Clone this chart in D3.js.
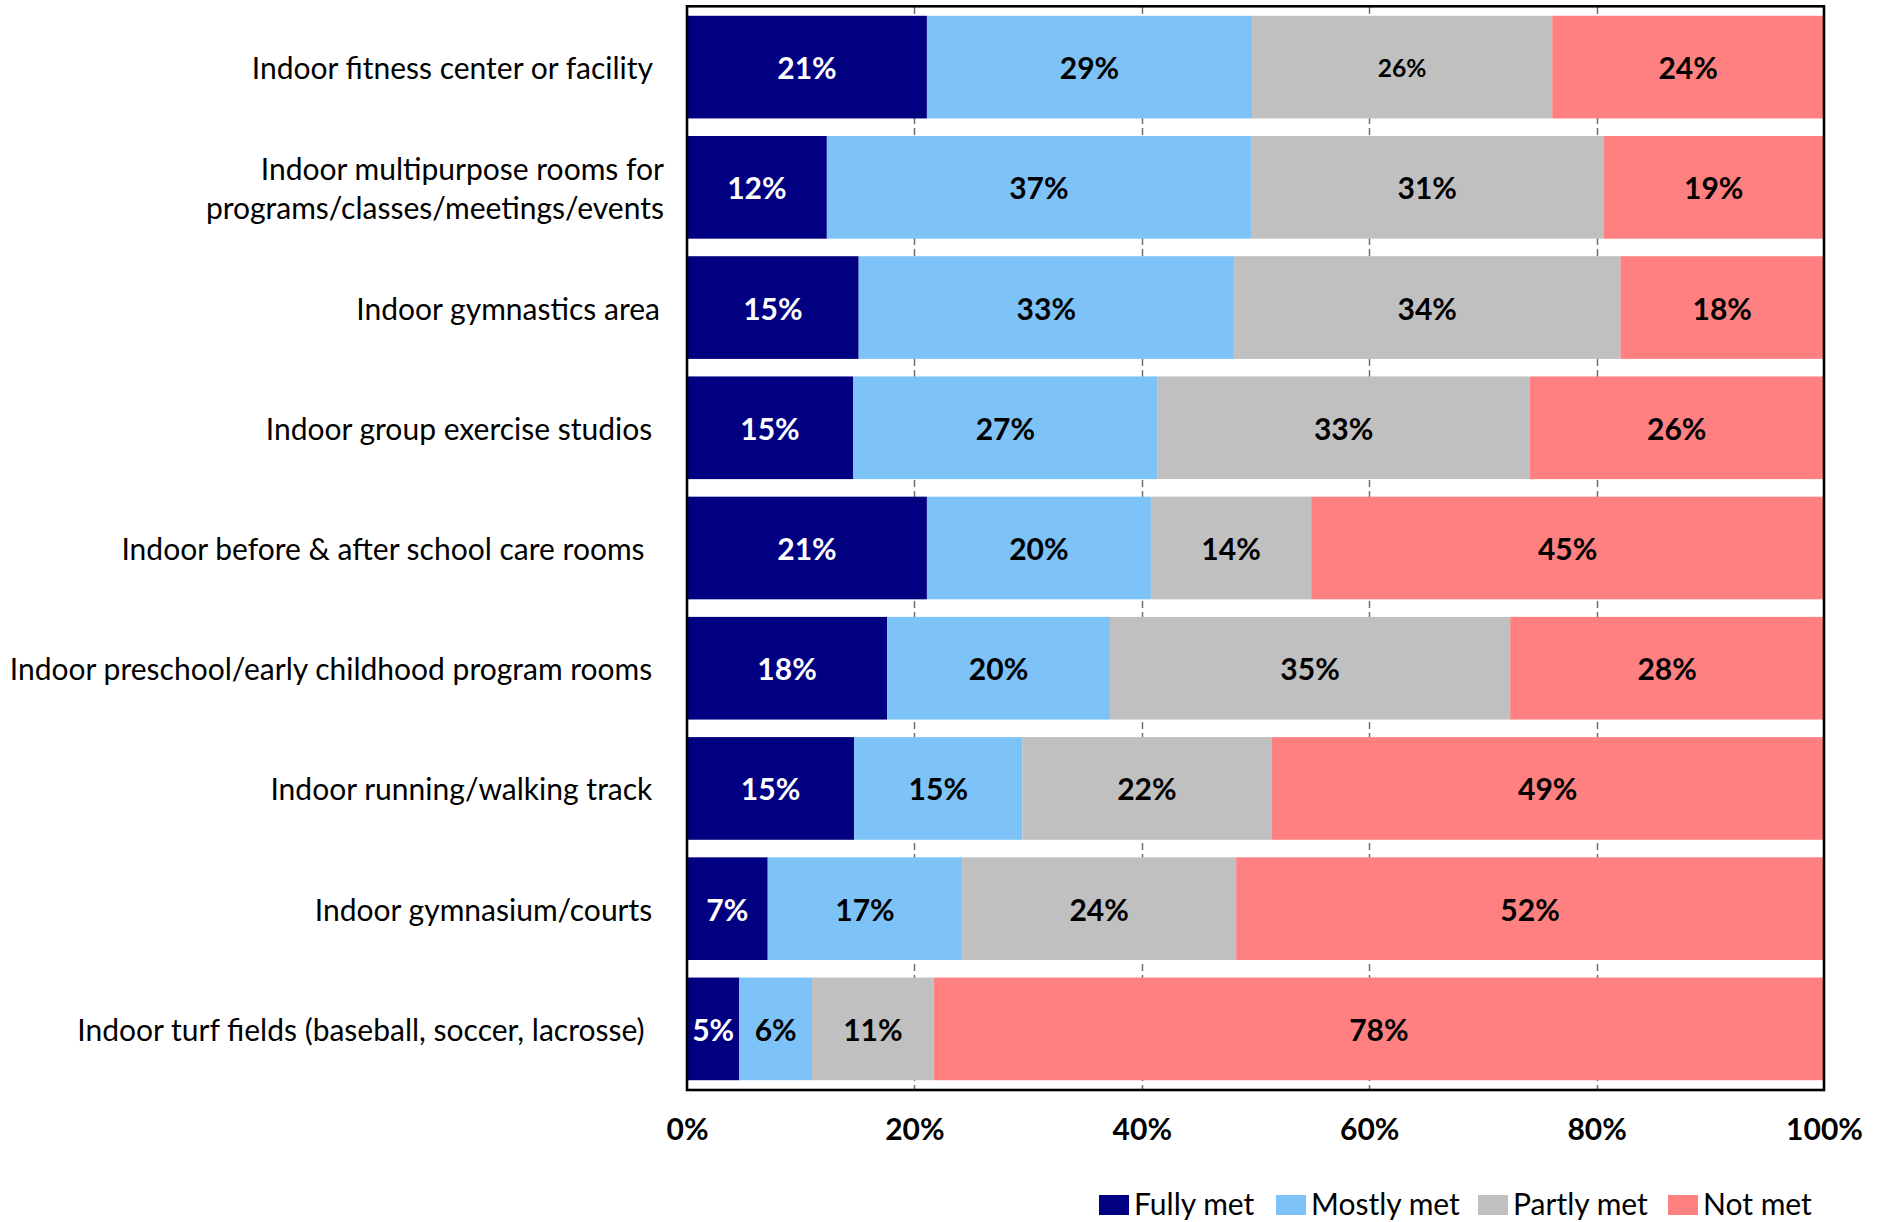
<!DOCTYPE html>
<html>
<head>
<meta charset="utf-8">
<script src="https://cdn.jsdelivr.net/npm/d3@7"></script>
<style>
  html, body { margin: 0; padding: 0; background: #fff; }
  svg { display: block; }
  text { font-family: Lato, "Open Sans", sans-serif; }
</style>
</head>
<body>
<svg id="chart" width="1881" height="1222"></svg>
<script>
// ---- data ----
const categories = [
  "Indoor fitness center or facility ",
  "Indoor multipurpose rooms for\nprograms/classes/meetings/events",
  "Indoor gymnastics area",
  "Indoor group exercise studios ",
  "Indoor before & after school care rooms  ",
  "Indoor preschool/early childhood program rooms ",
  "Indoor running/walking track ",
  "Indoor gymnasium/courts ",
  "Indoor turf fields (baseball, soccer, lacrosse)  "
];
const seriesNames = ["Fully met", "Mostly met", "Partly met", "Not met"];
const fullyMet  = [21.1, 12.3, 15.1, 14.6, 21.1, 17.6, 14.7,  7.1,  4.6];
const mostlyMet = [28.6, 37.3, 33.0, 26.8, 19.7, 19.6, 14.8, 17.1,  6.4];
const partlyMet = [26.4, 31.0, 34.0, 32.7, 14.1, 35.2, 21.9, 24.1, 10.7];
const notMet    = [23.9, 19.4, 17.9, 25.9, 45.1, 27.6, 48.6, 51.7, 78.3];
const tickValues = [0, 20, 40, 60, 80, 100];
const tickLabels = ["0%", "20%", "40%", "60%", "80%", "100%"];

// ---- styling ----
const colors = ["#000080", "#7DC3F7", "#C0C0C0", "#FF8080"];
const labelColors = ["#ffffff", "#000000", "#000000", "#000000"];
const legendX = [1099, 1276, 1478, 1668];

const svg = d3.select("#chart");

// font size fitting (Calibri substitute)
const probe = svg.append("text").style("font-size", "30px")
  .text("Indoor preschool/early childhood program rooms");
const pw = probe.node().getComputedTextLength();
probe.remove();
const k = Math.min(1.05, 643 / pw);
const fsCat = 30 * k;
const fsBold = 30 * k;

const rows = categories.map((c, i) => ({
  cat: c,
  "Fully met": fullyMet[i],
  "Mostly met": mostlyMet[i],
  "Partly met": partlyMet[i],
  "Not met": notMet[i]
}));

const x = d3.scaleLinear().domain([0, 100]).range([687, 1824]);
const y = d3.scaleBand().domain(categories).range([7, 1089])
  .paddingInner(0.146).paddingOuter(0.073);

const stacked = d3.stack().keys(seriesNames)(rows);

// gridlines
svg.append("g").selectAll("line")
  .data(tickValues.filter(v => v > 0 && v < 100))
  .join("line")
  .attr("x1", d => Math.round(x(d)) + 0.5).attr("x2", d => Math.round(x(d)) + 0.5)
  .attr("y1", 7).attr("y2", 1089)
  .attr("stroke", "#707070").attr("stroke-width", 1.5)
  .attr("stroke-dasharray", "7,4");

// bars
const layer = svg.append("g").selectAll("g")
  .data(stacked).join("g")
  .attr("fill", (d, i) => colors[i]);

layer.selectAll("rect")
  .data(d => d.map(p => ({ p, cat: p.data.cat })))
  .join("rect")
  .attr("x", d => x(d.p[0]))
  .attr("width", d => x(d.p[1]) - x(d.p[0]))
  .attr("y", d => y(d.cat))
  .attr("height", y.bandwidth());

// bar labels
stacked.forEach((s, si) => {
  svg.append("g").selectAll("text")
    .data(s.map((p, ri) => ({ p, ri })))
    .join("text")
    .attr("x", d => (x(d.p[0]) + x(d.p[1])) / 2)
    .attr("y", d => y(categories[d.ri]) + y.bandwidth() / 2)
    .attr("dy", "0.4em")
    .attr("text-anchor", "middle")
    .style("font-weight", "bold")
    .style("font-size", d => (d.ri === 0 && si === 2 ? fsBold * 0.82 : fsBold) + "px")
    .attr("fill", labelColors[si])
    .text(d => Math.round(d.p[1] - d.p[0]) + "%");
});

// frame
svg.append("rect")
  .attr("x", 687).attr("y", 6.3)
  .attr("width", 1824 - 687).attr("height", 1090 - 6.3)
  .attr("fill", "none").attr("stroke", "#000").attr("stroke-width", 2.6);

// category labels
const catG = svg.append("g");
categories.forEach(c => {
  const lines = c.split("\n");
  const cy = y(c) + y.bandwidth() / 2;
  const lh = 39;
  lines.forEach((ln, li) => {
    catG.append("text")
      .attr("x", lines.length > 1 ? 664 : 660)
      .attr("y", cy + (li - (lines.length - 1) / 2) * lh)
      .attr("dy", "0.4em")
      .attr("text-anchor", "end")
      .style("white-space", "pre")
      .style("font-size", fsCat + "px")
      .attr("fill", "#000")
      .text(ln);
  });
});

// x axis
const axis = d3.axisBottom(x)
  .tickValues(tickValues)
  .tickFormat((d, i) => tickLabels[i])
  .tickSize(0);
const ax = svg.append("g").attr("transform", "translate(0,1090)").call(axis);
ax.select(".domain").remove();
ax.selectAll("text")
  .attr("y", 50).attr("dy", "0")
  .style("font-family", "Lato, 'Open Sans', sans-serif")
  .style("font-weight", "bold")
  .style("font-size", fsBold + "px")
  .attr("fill", "#000");

// legend
const leg = svg.append("g");
seriesNames.forEach((n, i) => {
  leg.append("rect").attr("x", legendX[i]).attr("y", 1195).attr("width", 30).attr("height", 20)
    .attr("fill", colors[i]);
  leg.append("text").attr("x", legendX[i] + 35).attr("y", 1215)
    .style("font-size", fsCat + "px").attr("fill", "#000").text(n);
});
</script>
</body>
</html>
